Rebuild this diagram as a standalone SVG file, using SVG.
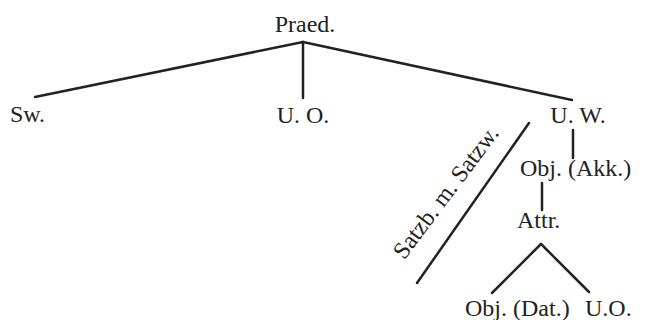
<svg xmlns="http://www.w3.org/2000/svg" width="647" height="320" viewBox="0 0 647 320">
<style>
.t{font-family:"Liberation Serif","Times New Roman",serif;font-size:24px;fill:#222}
.c line{stroke:#222;stroke-width:2.5;stroke-linecap:round}
</style>
<rect width="647" height="320" fill="#fff"/>
<g class="c" id="connectors">
<line x1="303" y1="42" x2="35" y2="97"/>
<line x1="303" y1="42" x2="303" y2="98"/>
<line x1="303" y1="42" x2="572" y2="100"/>
<line x1="573" y1="130" x2="573" y2="158"/>
<line x1="542" y1="183" x2="542" y2="210"/>
<line x1="541" y1="244" x2="492" y2="293"/>
<line x1="541" y1="244" x2="589" y2="292"/>
<line x1="529" y1="123" x2="417" y2="283"/>
</g>
<g id="praed"><text class="t" x="305" y="32" text-anchor="middle">Praed.</text></g>
<g id="sw"><text class="t" x="10" y="122">Sw.</text></g>
<g id="uo1"><text class="t" x="303" y="123" text-anchor="middle">U. O.</text></g>
<g id="uw"><text class="t" x="578" y="123" text-anchor="middle">U. W.</text></g>
<g id="objakk"><text class="t" x="520" y="176">Obj. (Akk.)</text></g>
<g id="attr"><text class="t" x="517" y="228">Attr.</text></g>
<g id="objdat"><text class="t" x="465" y="316">Obj. (Dat.)</text></g>
<g id="uo2"><text class="t" x="585" y="316">U.O.</text></g>
<g id="satzb"><text class="t" text-anchor="middle" transform="translate(452,197) rotate(-53)">Satzb. m. Satzw.</text></g>
</svg>
